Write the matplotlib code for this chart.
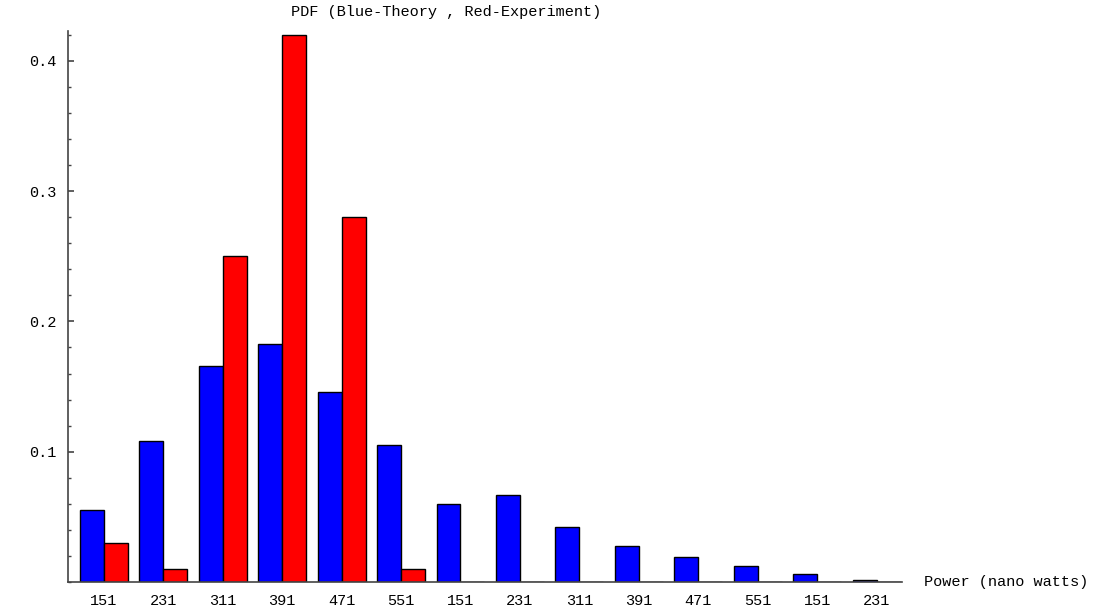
import numpy as np
import matplotlib
matplotlib.use("Agg")
import matplotlib.pyplot as plt
from matplotlib.ticker import MultipleLocator

# power bins (nano watts), repeated as in the original plot
labels = ["151", "231", "311", "391", "471", "551",
          "151", "231", "311", "391", "471", "551", "151", "231"]
theory = [0.055, 0.108, 0.166, 0.183, 0.146, 0.105,
          0.060, 0.067, 0.042, 0.028, 0.0195, 0.012, 0.006, 0.0015]
experiment = [0.030, 0.010, 0.250, 0.420, 0.280, 0.010,
              0, 0, 0, 0, 0, 0, 0, 0]

FONT = "Liberation Mono"
FS = 11

fig = plt.figure(figsize=(10.97, 6.13), dpi=100)
ax = fig.add_axes([0.062, 0.0506, 0.760, 0.899])

x = np.arange(len(labels))
w = 0.403
ax.bar(x - w / 2, theory, width=w, color="#0000ff", edgecolor="black", linewidth=1.0)
ax.bar(x + w / 2, experiment, width=w, color="#ff0000", edgecolor="black", linewidth=1.0)

ax.set_xlim(-0.6, 13.42)
ax.set_ylim(0, 0.423)

for s in ("top", "right"):
    ax.spines[s].set_visible(False)
for s in ("left", "bottom"):
    ax.spines[s].set_color("#444444")
    ax.spines[s].set_linewidth(1.2)

ax.set_xticks(x)
ax.set_xticklabels(labels, fontfamily=FONT, fontsize=FS)
ax.tick_params(axis="x", length=0, pad=9)

ax.yaxis.set_major_locator(MultipleLocator(0.1))
ax.yaxis.set_minor_locator(MultipleLocator(0.02))
ax.set_yticks([0.1, 0.2, 0.3, 0.4])
ax.set_yticklabels(["0.1", "0.2", "0.3", "0.4"], fontfamily=FONT, fontsize=FS)
ax.tick_params(axis="y", which="major", direction="in", length=4, width=1.2,
               color="#444444", pad=8)
ax.tick_params(axis="y", which="minor", direction="in", length=2.5, width=1.0,
               color="#444444")

fig.text(446 / 1097, 1 - 12 / 613, "PDF (Blue-Theory , Red-Experiment)",
         fontfamily=FONT, fontsize=FS, ha="center", va="center")

ax.annotate("Power (nano watts)", xy=(1, 0), xycoords="axes fraction",
            xytext=(16, 0), textcoords="offset points", va="center",
            ha="left", fontfamily=FONT, fontsize=FS)

fig.savefig("out.png", dpi=100)
